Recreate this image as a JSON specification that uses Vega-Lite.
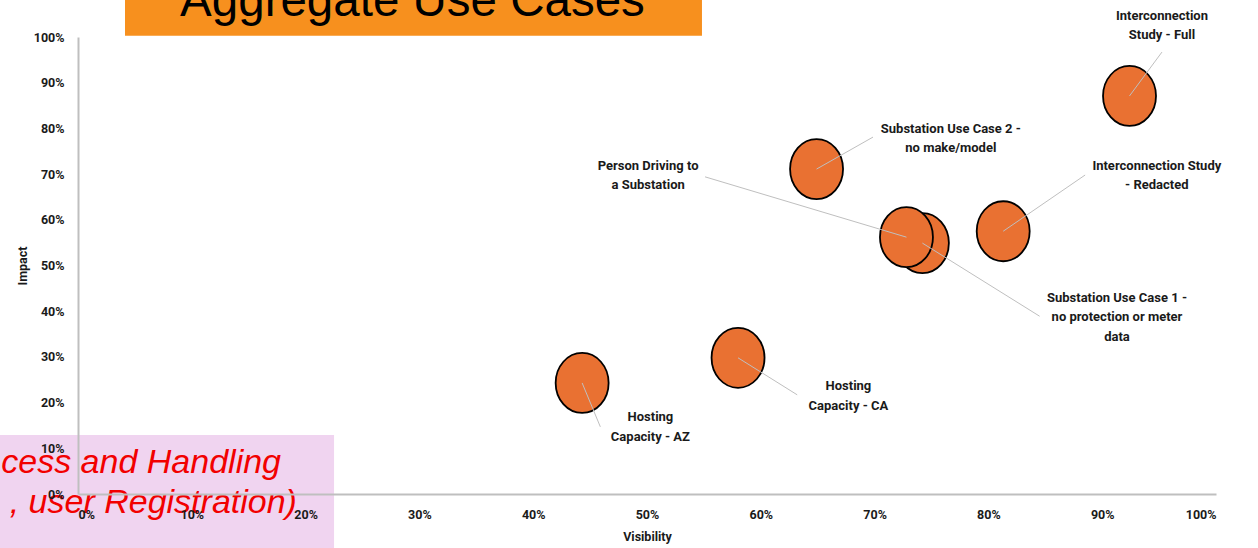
{
  "$schema": "https://vega.github.io/schema/vega-lite/v6.json",
  "width": 1138,
  "height": 457,
  "autosize": {"type": "none"},
  "padding": {"left": 78, "top": 37, "right": 42, "bottom": 54},
  "background": "white",
  "config": {"view": {"stroke": null}},
  "datasets": {
    "points": [
      {"name": "Hosting Capacity - AZ", "label": "Hosting\nCapacity - AZ", "visibility": 44.3, "impact": 24.3, "label_x": 50.3, "label_y": 16.8, "line_x": 45.9, "line_y": 14.7},
      {"name": "Hosting Capacity - CA", "label": "Hosting\nCapacity - CA", "visibility": 58.0, "impact": 29.8, "label_x": 67.7, "label_y": 23.6, "line_x": 63.2, "line_y": 21.7},
      {"name": "Substation Use Case 2", "label": "Substation Use Case 2 -\nno make/model", "visibility": 64.9, "impact": 71.1, "label_x": 76.7, "label_y": 79.9, "line_x": 69.86, "line_y": 78.1},
      {"name": "Substation Use Case 1", "label": "Substation Use Case 1 -\nno protection or meter\ndata", "visibility": 74.2, "impact": 54.9, "label_x": 91.3, "label_y": 42.9, "line_x": 84.5, "line_y": 38.9},
      {"name": "Person Driving to a Substation", "label": "Person Driving to\na Substation", "visibility": 72.8, "impact": 56.2, "label_x": 50.1, "label_y": 71.8, "line_x": 55.1, "line_y": 69.4},
      {"name": "Interconnection Study - Redacted", "label": "Interconnection Study\n- Redacted", "visibility": 81.3, "impact": 57.5, "label_x": 94.8, "label_y": 71.8, "line_x": 88.5, "line_y": 69.8},
      {"name": "Interconnection Study - Full", "label": "Interconnection\nStudy - Full", "visibility": 92.4, "impact": 87.1, "label_x": 95.25, "label_y": 104.6, "line_x": 95.25, "line_y": 96.7}
    ],
    "boxes": [
      {"box": "title", "x1": 4.13, "x2": 54.83, "y1": 112, "y2": 100.3, "color": "#F7901E"},
      {"box": "note", "x1": -7.5, "x2": 22.5, "y1": 12.9, "y2": -12.5, "color": "#F0D4F0"}
    ],
    "notes": [
      {"text": "cess and Handling", "x": 17.84, "y": 4.6},
      {"text": ", user Registration)", "x": 19.24, "y": -4.2}
    ],
    "title": [
      {"text": "Aggregate Use Cases", "x": 29.39, "y": 104.6}
    ]
  },
  "layer": [
    {
      "data": {"name": "boxes"},
      "mark": {"type": "rect", "clip": false},
      "encoding": {
        "x": {"field": "x1", "type": "quantitative", "scale": {"domain": [0, 100], "nice": false}},
        "x2": {"field": "x2"},
        "y": {"field": "y1", "type": "quantitative", "scale": {"domain": [0, 100], "nice": false}},
        "y2": {"field": "y2"},
        "color": {"field": "color", "type": "nominal", "scale": null}
      }
    },
    {
      "data": {"name": "title"},
      "mark": {"type": "text", "font": "Liberation Sans, Arial, sans-serif", "fontSize": 47.5, "color": "black", "align": "center", "baseline": "alphabetic"},
      "encoding": {
        "x": {"field": "x", "type": "quantitative"},
        "y": {"field": "y", "type": "quantitative"},
        "text": {"field": "text"}
      }
    },
    {
      "data": {"name": "notes"},
      "mark": {"type": "text", "font": "Liberation Sans, Arial, sans-serif", "fontSize": 34, "fontStyle": "italic", "color": "#F20000", "align": "right", "baseline": "alphabetic"},
      "encoding": {
        "x": {"field": "x", "type": "quantitative"},
        "y": {"field": "y", "type": "quantitative"},
        "text": {"field": "text"}
      }
    },
    {
      "data": {"name": "points"},
      "mark": {"type": "point", "filled": true, "fill": "#E97132", "fillOpacity": 1, "stroke": "black", "strokeWidth": 1.8, "opacity": 1,
        "shape": "M -0.883,0 A 0.883,1 0 1,1 0.883,0 A 0.883,1 0 1,1 -0.883,0 Z", "size": 3600},
      "encoding": {
        "x": {"field": "visibility", "type": "quantitative", "title": "Visibility",
          "axis": {"labelExpr": "datum.value + '%'", "values": [0,10,20,30,40,50,60,70,80,90,100], "grid": false, "ticks": false, "domainColor": "#BFBFBF", "domainWidth": 2, "labelFont": "Roboto", "labelFontWeight": "bold", "labelFontSize": 12.5, "labelColor": "#1a1a1a", "labelPadding": 14, "titleFont": "Roboto", "titleFontWeight": "bold", "titleFontSize": 12.5, "titleColor": "#1a1a1a", "titlePadding": 10, "zindex": 1}},
        "y": {"field": "impact", "type": "quantitative", "title": "Impact",
          "axis": {"labelExpr": "datum.value + '%'", "values": [0,10,20,30,40,50,60,70,80,90,100], "grid": false, "ticks": false, "domainColor": "#BFBFBF", "domainWidth": 2, "labelFont": "Roboto", "labelFontWeight": "bold", "labelFontSize": 12.5, "labelColor": "#1a1a1a", "labelPadding": 14, "titleFont": "Roboto", "titleFontWeight": "bold", "titleFontSize": 12.5, "titleColor": "#1a1a1a", "titlePadding": 4, "zindex": 1}}
      }
    },
    {
      "data": {"name": "points"},
      "mark": {"type": "rule", "color": "#BFBFBF", "strokeWidth": 1},
      "encoding": {
        "x": {"field": "visibility", "type": "quantitative"},
        "y": {"field": "impact", "type": "quantitative"},
        "x2": {"field": "line_x"},
        "y2": {"field": "line_y"}
      }
    },
    {
      "data": {"name": "points"},
      "mark": {"type": "text", "font": "Roboto", "fontWeight": "bold", "fontSize": 13, "color": "#1a1a1a", "align": "center", "baseline": "middle", "lineBreak": "\n", "lineHeight": 19.5},
      "encoding": {
        "x": {"field": "label_x", "type": "quantitative"},
        "y": {"field": "label_y", "type": "quantitative"},
        "text": {"field": "label"}
      }
    }
  ]
}
